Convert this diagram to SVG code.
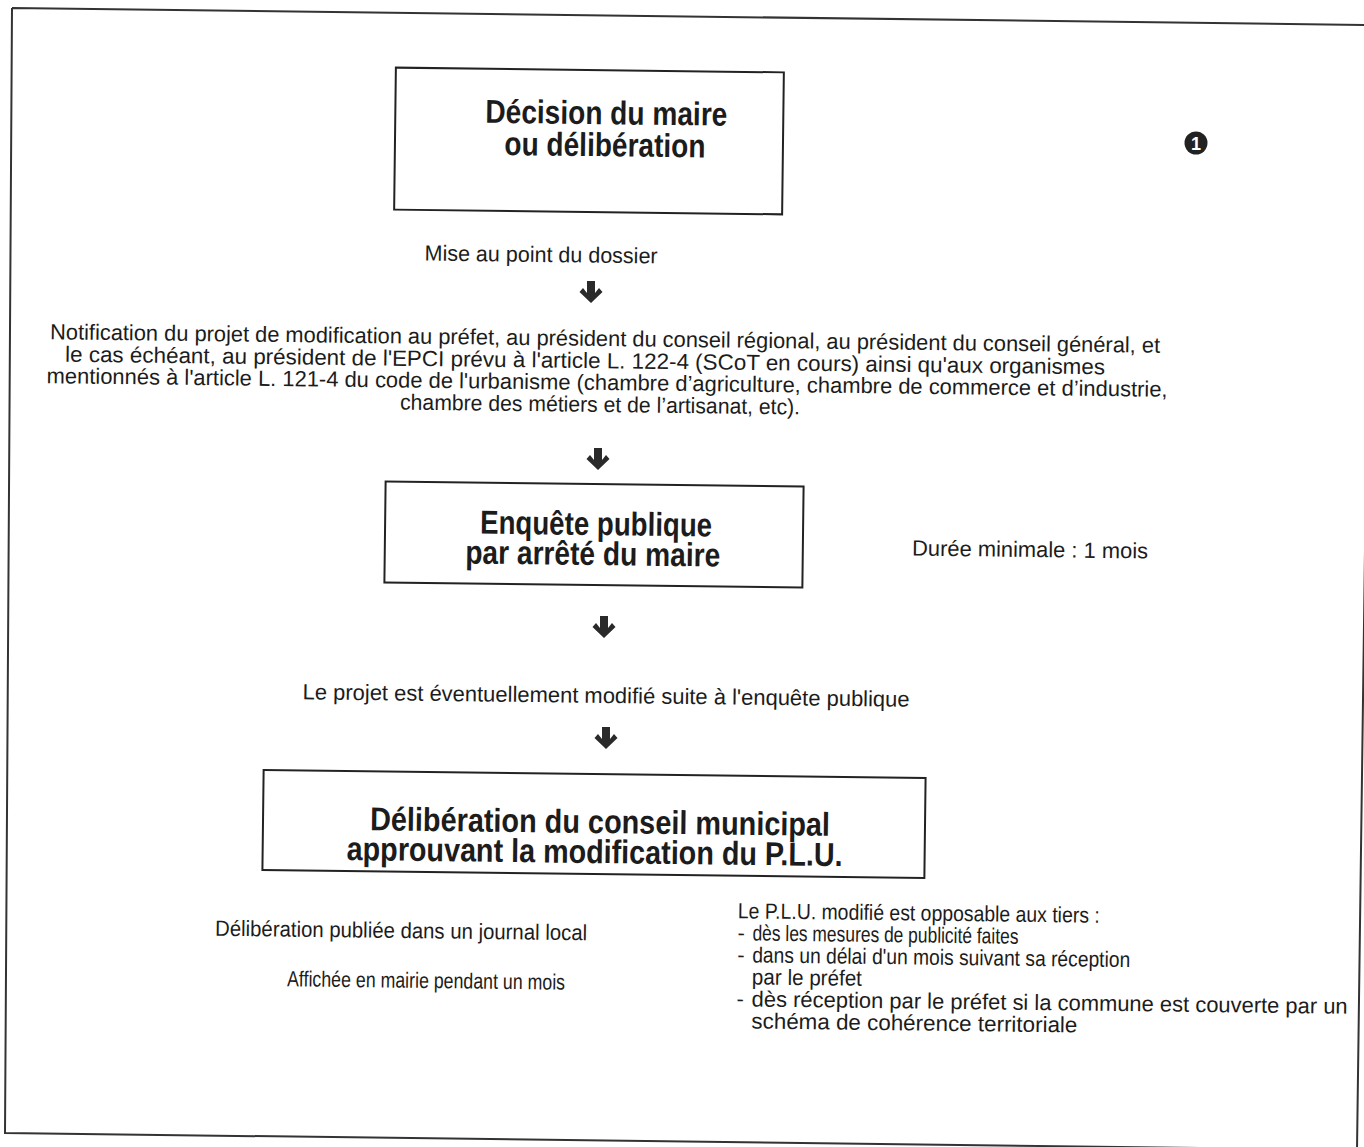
<svg xmlns="http://www.w3.org/2000/svg" width="1364" height="1147" viewBox="0 0 1364 1147">
<style>
.t{font-family:"Liberation Sans",Arial,sans-serif;font-size:22px;fill:#1c1c1c}
.b{font-family:"Liberation Sans",Arial,sans-serif;font-size:33px;font-weight:bold;fill:#1c1c1c;text-anchor:middle}
.c{text-anchor:middle}
.box{fill:#fff;stroke:#222;stroke-width:2}
.arr{fill:#2a2a2a}
</style>
<defs>
<path id="ar" d="M-4,-11 L4,-11 L4,1 L8,-4 L11.5,0 L0,11 L-11.5,0 L-8,-4 L-4,1 Z"/>
</defs>
<rect x="0" y="0" width="1364" height="1147" fill="#fff"/>
<g id="frame">
<path d="M12,8 L1372,25 L1357,1150 M12,8 L5,1133 L1360,1150" fill="none" stroke="#333" stroke-width="2"/>
</g>
<g id="node-decision" transform="rotate(0.7 589 141)">
<rect class="box" x="395" y="70" width="388" height="142"/>
<text class="b" x="606" y="124" textLength="242" lengthAdjust="spacingAndGlyphs">Décision du maire</text>
<text class="b" x="605" y="156" textLength="201" lengthAdjust="spacingAndGlyphs">ou délibération</text>
</g>
<g id="marker-1">
<circle cx="1196" cy="143" r="11.5" fill="#222"/>
<text x="1196" y="150" font-family="Liberation Sans,Arial,sans-serif" font-size="18" font-weight="bold" fill="#fff" text-anchor="middle">1</text>
</g>
<g id="node-mise" transform="rotate(0.7 541 262)">
<text class="t c" x="541" y="262" textLength="233" lengthAdjust="spacingAndGlyphs">Mise au point du dossier</text>
</g>
<g id="node-notification">
<text class="t c" x="605" y="346" transform="rotate(0.7 605 346)" textLength="1110" lengthAdjust="spacingAndGlyphs">Notification du projet de modification au préfet, au président du conseil régional, au président du conseil général, et</text>
<text class="t c" x="585" y="368" transform="rotate(0.7 585 368)" textLength="1040" lengthAdjust="spacingAndGlyphs">le cas échéant, au président de l'EPCI prévu à l'article L. 122-4 (SCoT en cours) ainsi qu'aux organismes</text>
<text class="t c" x="607" y="390" transform="rotate(0.7 607 390)" textLength="1121" lengthAdjust="spacingAndGlyphs">mentionnés à l'article L. 121-4 du code de l'urbanisme (chambre d’agriculture, chambre de commerce et d’industrie,</text>
<text class="t c" x="600" y="412" transform="rotate(0.7 600 412)" textLength="400" lengthAdjust="spacingAndGlyphs">chambre des métiers et de l’artisanat, etc).</text>
</g>
<g id="node-enquete" transform="rotate(0.7 594 534)">
<rect class="box" x="385" y="484" width="418" height="101"/>
<text class="b" x="596" y="535" textLength="232" lengthAdjust="spacingAndGlyphs">Enquête publique</text>
<text class="b" x="593" y="565" textLength="255" lengthAdjust="spacingAndGlyphs">par arrêté du maire</text>
</g>
<g id="node-duree" transform="rotate(0.7 1030 557)">
<text class="t c" x="1030" y="557" textLength="236" lengthAdjust="spacingAndGlyphs">Durée minimale : 1 mois</text>
</g>
<g id="node-projet" transform="rotate(0.7 606 703)">
<text class="t c" x="606" y="703" textLength="607" lengthAdjust="spacingAndGlyphs">Le projet est éventuellement modifié suite à l'enquête publique</text>
</g>
<g id="node-deliberation" transform="rotate(0.7 594 824)">
<rect class="box" x="263" y="774" width="662" height="100"/>
<text class="b" x="600" y="833" textLength="460" lengthAdjust="spacingAndGlyphs">Délibération du conseil municipal</text>
<text class="b" x="595" y="863" textLength="496" lengthAdjust="spacingAndGlyphs">approuvant la modification du P.L.U.</text>
</g>
<g id="node-publication">
<text class="t c" x="401" y="938" transform="rotate(0.7 401 938)" textLength="372" lengthAdjust="spacingAndGlyphs">Délibération publiée dans un journal local</text>
<text class="t c" x="426" y="988" transform="rotate(0.7 426 988)" textLength="278" lengthAdjust="spacingAndGlyphs">Affichée en mairie pendant un mois</text>
</g>
<g id="node-opposable" transform="rotate(0.7 1040 975)">
<text class="t" x="737" y="922" textLength="362" lengthAdjust="spacingAndGlyphs">Le P.L.U. modifié est opposable aux tiers :</text>
<text class="t" y="944"><tspan x="737">-</tspan><tspan x="752" textLength="266" lengthAdjust="spacingAndGlyphs">dès les mesures de publicité faites</tspan></text>
<text class="t" y="966"><tspan x="737">-</tspan><tspan x="752" textLength="378" lengthAdjust="spacingAndGlyphs">dans un délai d'un mois suivant sa réception</tspan></text>
<text class="t" x="752" y="988" textLength="110" lengthAdjust="spacingAndGlyphs">par le préfet</text>
<text class="t" y="1010"><tspan x="737">-</tspan><tspan x="752" textLength="596" lengthAdjust="spacingAndGlyphs">dès réception par le préfet si la commune est couverte par un</tspan></text>
<text class="t" x="752" y="1032" textLength="326" lengthAdjust="spacingAndGlyphs">schéma de cohérence territoriale</text>
</g>
<g id="connectors">
<use href="#ar" class="arr" transform="translate(591 292)"/>
<use href="#ar" class="arr" transform="translate(598 459)"/>
<use href="#ar" class="arr" transform="translate(604 627)"/>
<use href="#ar" class="arr" transform="translate(606 738)"/>
</g>
</svg>
